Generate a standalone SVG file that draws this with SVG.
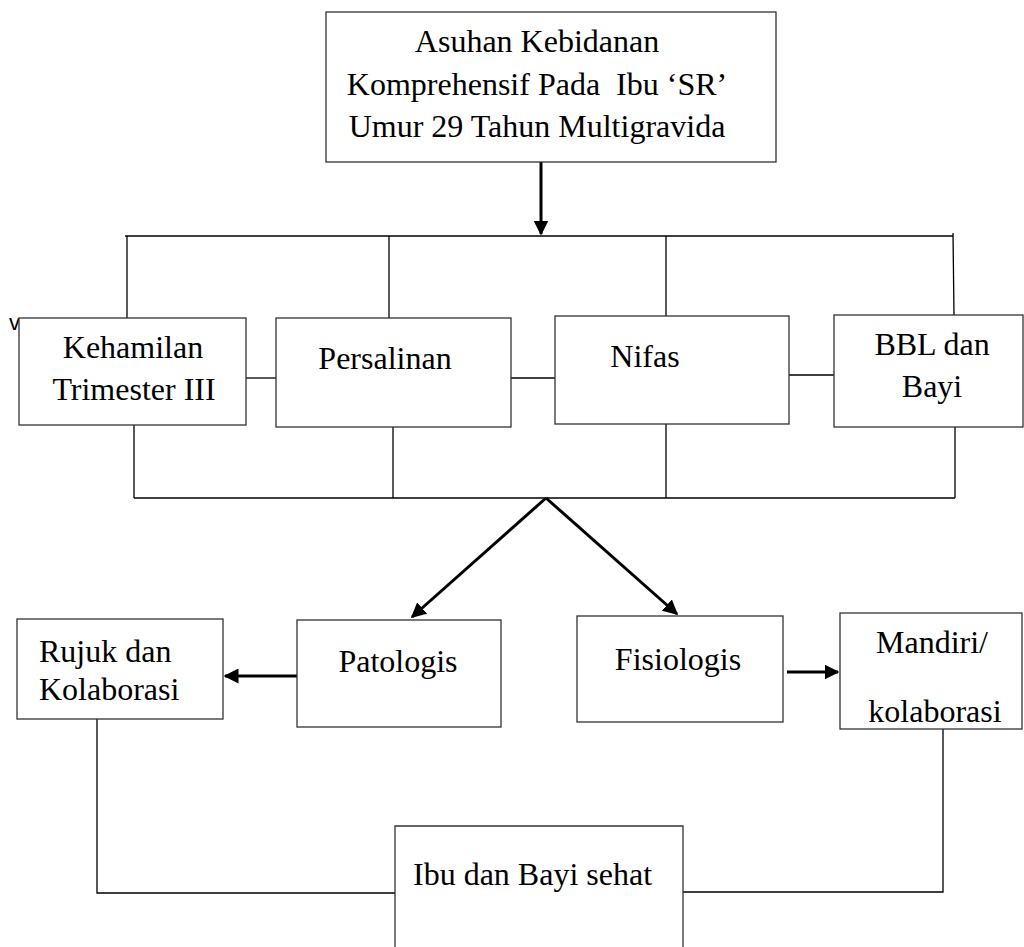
<svg xmlns="http://www.w3.org/2000/svg" width="1024" height="947" viewBox="0 0 1024 947">
<defs>
<style>
.box{fill:#fff;stroke:#333;stroke-width:1.3}
.ln{fill:none;stroke:#000;stroke-width:1.3}
.ar{fill:none;stroke:#000;stroke-width:3}
text{font-family:"Liberation Serif","Times New Roman",serif;font-size:32px;fill:#000}
.c{text-anchor:middle}
</style>
<marker id="ah" viewBox="0 0 10 10" refX="9" refY="5" markerWidth="5" markerHeight="5" orient="auto" markerUnits="strokeWidth">
<path d="M0,0 L10,5 L0,10 z" fill="#000"/>
</marker>
</defs>
<rect width="1024" height="947" fill="#fff"/>
<text x="9" y="330" style="font-family:'Liberation Sans',Arial,sans-serif;font-size:22px">v</text>
<g id="connectors">
<line class="ar" x1="541" y1="162" x2="541" y2="234" marker-end="url(#ah)"/>
<line class="ln" x1="125" y1="236" x2="953" y2="236"/>
<line class="ln" x1="127" y1="236" x2="127" y2="318"/>
<line class="ln" x1="389" y1="236" x2="389" y2="318"/>
<line class="ln" x1="666" y1="236" x2="666" y2="316"/>
<line class="ln" x1="953" y1="233" x2="954" y2="315"/>
<line class="ln" x1="246" y1="378" x2="276" y2="378"/>
<line class="ln" x1="511" y1="378" x2="555" y2="378"/>
<line class="ln" x1="789" y1="375" x2="834" y2="375"/>
<line class="ln" x1="134" y1="425" x2="134" y2="498"/>
<line class="ln" x1="393" y1="427" x2="393" y2="498"/>
<line class="ln" x1="666" y1="424" x2="666" y2="498"/>
<line class="ln" x1="955" y1="427" x2="955" y2="498"/>
<line class="ln" x1="134" y1="498" x2="955" y2="498"/>
<line class="ar" x1="546" y1="498" x2="412" y2="617" marker-end="url(#ah)"/>
<line class="ar" x1="546" y1="498" x2="677" y2="614" marker-end="url(#ah)"/>
<line class="ar" x1="297" y1="676" x2="225" y2="676" marker-end="url(#ah)"/>
<line class="ar" x1="787" y1="672" x2="838" y2="672" marker-end="url(#ah)"/>
<polyline class="ln" points="97,719 97,893 395,893"/>
<polyline class="ln" points="683,892 943,892 943,729"/>
</g>
<g id="node-top">
<rect class="box" x="326" y="12" width="450" height="150"/>
<text class="c" x="537" y="52">Asuhan Kebidanan</text>
<text class="c" x="537" y="95" xml:space="preserve">Komprehensif Pada  Ibu ‘SR’</text>
<text class="c" x="537" y="137">Umur 29 Tahun Multigravida</text>
</g>
<g id="node-kehamilan">
<rect class="box" x="19" y="318" width="227" height="107"/>
<text class="c" x="133" y="358">Kehamilan</text>
<text class="c" x="134" y="400">Trimester III</text>
</g>
<g id="node-persalinan">
<rect class="box" x="276" y="318" width="235" height="109"/>
<text class="c" x="385" y="369">Persalinan</text>
</g>
<g id="node-nifas">
<rect class="box" x="555" y="316" width="234" height="108"/>
<text class="c" x="645" y="367">Nifas</text>
</g>
<g id="node-bbl">
<rect class="box" x="834" y="315" width="189" height="112"/>
<text class="c" x="932" y="355">BBL dan</text>
<text class="c" x="932" y="397">Bayi</text>
</g>
<g id="node-patologis">
<rect class="box" x="297" y="620" width="204" height="107"/>
<text class="c" x="398" y="672">Patologis</text>
</g>
<g id="node-fisiologis">
<rect class="box" x="577" y="616" width="206" height="106"/>
<text class="c" x="678" y="670">Fisiologis</text>
</g>
<g id="node-rujuk">
<rect class="box" x="17" y="619" width="206" height="100"/>
<text x="39" y="662">Rujuk dan</text>
<text x="39" y="700">Kolaborasi</text>
</g>
<g id="node-mandiri">
<rect class="box" x="840" y="613" width="182" height="116"/>
<text class="c" x="932" y="653">Mandiri/</text>
<text class="c" x="935" y="722">kolaborasi</text>
</g>
<g id="node-ibu">
<path class="box" d="M395,947 L395,826 L683,826 L683,947"/>
<text x="413" y="885">Ibu dan Bayi sehat</text>
</g>
</svg>
